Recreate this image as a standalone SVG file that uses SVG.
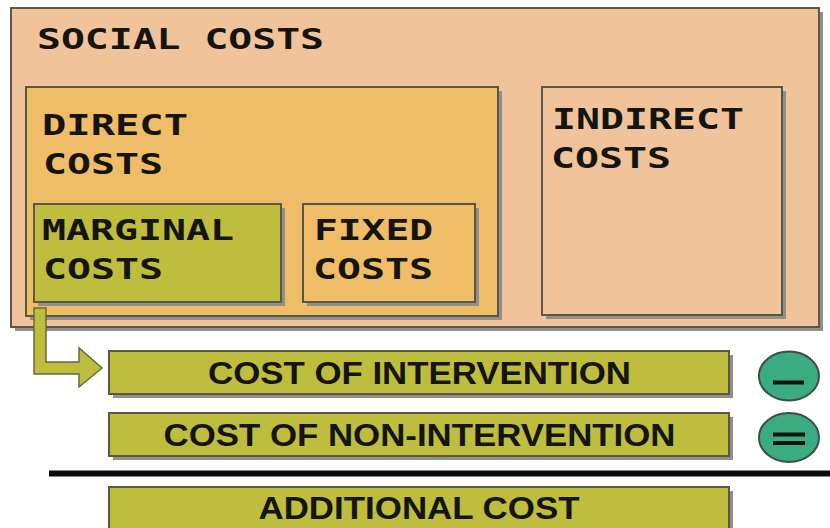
<svg xmlns="http://www.w3.org/2000/svg" width="830" height="528" viewBox="0 0 830 528">
<style>
.box{stroke:#5c5744;stroke-width:2}
.shadow{fill:#8f8f8c}
.peach{fill:#f0c39a}
.orange{fill:#efbc68}
.green{fill:#bebd3e}
.t{font-family:"DejaVu Sans Mono","Liberation Mono",monospace;font-weight:700;font-size:29px;fill:#141410}
.b{font-family:"Liberation Sans",Arial,sans-serif;font-weight:700;font-size:31px;fill:#141410;text-anchor:middle}
.oval{fill:#3bab80;stroke:#3f4f45;stroke-width:2}
.sign{stroke:#101410;stroke-width:4;fill:none}
</style>
<rect width="830" height="528" fill="#fff"/>
<g id="social-costs">
<rect class="shadow" x="15" y="12" width="808" height="319"/>
<rect class="box peach" x="11" y="8" width="808" height="319"/>
<text class="t" x="37" y="48.500" textLength="287" lengthAdjust="spacingAndGlyphs">SOCIAL COSTS</text>
</g>
<g id="direct-costs">
<rect class="shadow" x="30" y="91" width="472" height="229"/>
<rect class="box orange" x="26" y="87" width="472" height="229"/>
<text class="t" x="42" y="134.500" textLength="146" lengthAdjust="spacingAndGlyphs">DIRECT</text>
<text class="t" x="43" y="173.500" textLength="120" lengthAdjust="spacingAndGlyphs">COSTS</text>
</g>
<g id="marginal-costs">
<rect class="shadow" x="38" y="208" width="247" height="98"/>
<rect class="box green" x="34" y="204" width="247" height="98"/>
<text class="t" x="42" y="239.500" textLength="192" lengthAdjust="spacingAndGlyphs">MARGINAL</text>
<text class="t" x="43" y="278.500" textLength="120" lengthAdjust="spacingAndGlyphs">COSTS</text>
</g>
<g id="fixed-costs">
<rect class="shadow" x="307" y="208" width="172" height="98"/>
<rect class="box orange" x="303" y="204" width="172" height="98"/>
<text class="t" x="314" y="239.500" textLength="119" lengthAdjust="spacingAndGlyphs">FIXED</text>
<text class="t" x="313" y="278.500" textLength="120" lengthAdjust="spacingAndGlyphs">COSTS</text>
</g>
<g id="indirect-costs">
<rect class="shadow" x="546" y="91" width="240" height="228"/>
<rect class="box peach" x="542" y="87" width="240" height="228"/>
<text class="t" x="552" y="128.500" textLength="192" lengthAdjust="spacingAndGlyphs">INDIRECT</text>
<text class="t" x="551" y="167.500" textLength="120" lengthAdjust="spacingAndGlyphs">COSTS</text>
</g>
<g id="cost-of-intervention">
<rect class="shadow" x="113" y="355" width="620" height="43"/>
<rect class="box green" x="109" y="351" width="620" height="43"/>
<text class="b" x="419.500" y="384" textLength="423" lengthAdjust="spacingAndGlyphs">COST OF INTERVENTION</text>
</g>
<g id="cost-of-non-intervention">
<rect class="shadow" x="113" y="417" width="620" height="43"/>
<rect class="box green" x="109" y="413" width="620" height="43"/>
<text class="b" x="419.500" y="445.500" textLength="512" lengthAdjust="spacingAndGlyphs">COST OF NON-INTERVENTION</text>
</g>
<g id="additional-cost">
<rect class="shadow" x="113" y="491" width="620" height="43"/>
<rect class="box green" x="109" y="487" width="620" height="43"/>
<text class="b" x="419" y="519" textLength="321" lengthAdjust="spacingAndGlyphs">ADDITIONAL COST</text>
</g>
<g id="minus">
<ellipse class="oval" cx="789" cy="376" rx="30" ry="24.500"/>
<path class="sign" d="M773 382.500H804"/>
</g>
<g id="equals">
<ellipse class="oval" cx="789" cy="437.500" rx="30" ry="24.500"/>
<path class="sign" d="M773 434.500H805M773 443H805"/>
</g>
<g id="connectors">
<path d="M34 308H46V362H79V348L102 368L79 387V374H34Z" fill="#bebd3e" stroke="#6b6a3a" stroke-width="1.500"/>
<path d="M49 473.500H830" stroke="#0a0a0a" stroke-width="6" fill="none"/>
</g>
</svg>
